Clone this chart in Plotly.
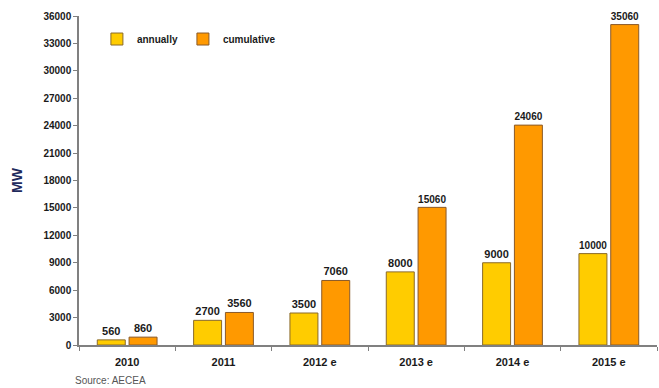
import plotly.graph_objects as go

categories = ["2010", "2011", "2012 e", "2013 e", "2014 e", "2015 e"]
annually = [560, 2700, 3500, 8000, 9000, 10000]
cumulative = [860, 3560, 7060, 15060, 24060, 35060]
y_ticks = list(range(0, 36001, 3000))

font_family = "Liberation Sans, Arial, sans-serif"

fig = go.Figure()
fig.add_trace(go.Bar(
    x=categories, y=annually, name="<b>annually</b>",
    marker=dict(color="#FFCC00", line=dict(color="#8A6A2A", width=1)),
    text=["<b>%d</b>" % v for v in annually], textposition="outside",
    textfont=dict(family=font_family, size=11, color="#1a1a1a"),
    cliponaxis=False,
))
fig.add_trace(go.Bar(
    x=categories, y=cumulative, name="<b>cumulative</b>",
    marker=dict(color="#FF9900", line=dict(color="#8A5A2A", width=1)),
    text=["<b>%d</b>" % v for v in cumulative], textposition="outside",
    textfont=dict(family=font_family, size=11, color="#1a1a1a"),
    cliponaxis=False,
))

fig.update_layout(
    width=659, height=388,
    margin=dict(l=79, r=2, t=16, b=43),
    paper_bgcolor="white", plot_bgcolor="white",
    barmode="group", bargap=0.34, bargroupgap=0.12,
    font=dict(family=font_family, size=11, color="#1a1a1a"),
    showlegend=True,
    legend=dict(
        orientation="h", x=0.031, y=0.93, xanchor="left", yanchor="middle",
        font=dict(size=10, color="#1a1a1a"), bgcolor="rgba(0,0,0,0)",
        itemwidth=30, tracegroupgap=0,
    ),
    xaxis=dict(
        showline=True, linecolor="#808080", linewidth=1.5,
        ticks="outside", tickson="boundaries", ticklen=4, tickcolor="#808080",
        tickfont=dict(size=11, color="#1a1a1a", family=font_family),
        tickvals=categories, ticktext=["<b>%s</b>" % c for c in categories],
        ticklabelstandoff=6,
        showgrid=False,
    ),
    yaxis=dict(
        range=[0, 36000], tickvals=y_ticks, ticktext=["<b>%d</b>" % v for v in y_ticks],
        showline=True, linecolor="#808080", linewidth=1.5,
        ticks="outside", ticklen=4, tickcolor="#808080",
        tickfont=dict(size=10, color="#1a1a1a"),
        showgrid=False, zeroline=False,
        title=dict(text="<b>MW</b>", font=dict(size=14, color="#1F2A5C"), standoff=18),
    ),
)

fig.add_annotation(
    text="Source: AECEA", xref="paper", yref="paper",
    x=-0.01, y=-0.13, xanchor="left", yanchor="bottom", showarrow=False,
    font=dict(size=10, color="#555555"),
)

fig.write_html("out.html")
